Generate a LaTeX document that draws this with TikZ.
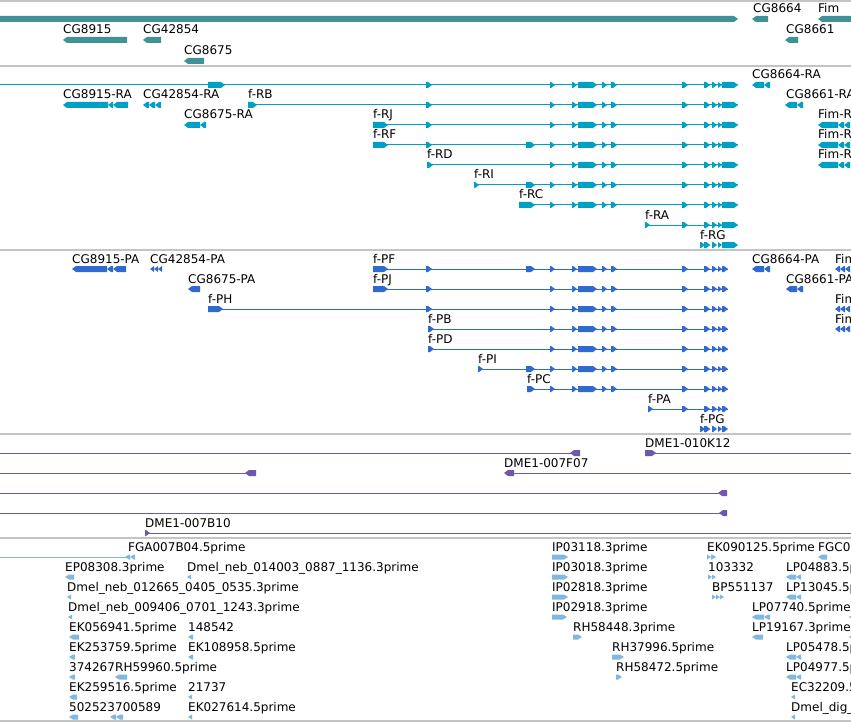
\documentclass[tikz,border=0pt]{standalone}
\usepackage{fontspec}
\setmainfont{DejaVu Sans}
\definecolor{GeneClr}{RGB}{64,146,150}
\definecolor{TransClr}{RGB}{0,160,196}
\definecolor{ProtClr}{RGB}{48,106,206}
\definecolor{CloneClr}{RGB}{112,88,168}
\definecolor{EstClr}{RGB}{128,184,224}
\definecolor{SepClr}{RGB}{196,196,196}
\def\hh{3}
\newcommand\exr[3]{\fill (#1,#3-\hh) -- ({max(#1,#2-4)},#3-\hh) -- (#2,#3) -- ({max(#1,#2-4)},#3+\hh) -- (#1,#3+\hh) -- cycle;}
\newcommand\exl[3]{\fill (#2,#3-\hh) -- ({min(#2,#1+4)},#3-\hh) -- (#1,#3) -- ({min(#2,#1+4)},#3+\hh) -- (#2,#3+\hh) -- cycle;}
\newcommand\fmid[1]{\foreach \a/\b in {550/555,572/577,578/597,602/607,611/617,682/688}{\exr{\a}{\b}{#1}}}
\newcommand\fend[2]{\foreach \a/\b in {704/710,712/717,718/722}{\exr{\a}{\b}{#1}}\exr{722}{#2}{#1}}

\begin{document}
\begin{tikzpicture}[x=1pt,y=-1pt,
  lbl/.style={anchor=base west,inner sep=0pt,text=black,font=\fontsize{12}{14}\selectfont},
  sep/.style={draw=SepClr,line width=1.2pt},
  intron/.style={line width=1pt}]
\useasboundingbox (0,0) rectangle (851,722);
\fill[white] (0,0) rectangle (851,722);
\clip (0,0) rectangle (851,722);

\foreach \y in {1,66,250,434,538,721} \draw[sep] (0,\y) -- (851,\y);

\begin{scope}[color=GeneClr]
\exr{0}{738}{19}
\exl{752}{768}{19}
\exl{818}{860}{19}
\exl{63}{127}{40}
\exl{143}{161}{40}
\exl{785}{798}{40}
\exl{184}{204}{61}
\end{scope}
\node[lbl] (g8664) at (753,13) {CG8664};
\node[lbl] (gfim) at (818,13) {Fim};
\node[lbl] (g8915) at (63,34) {CG8915};
\node[lbl] (g42854) at (143,34) {CG42854};
\node[lbl] (g8661) at (786,34) {CG8661};
\node[lbl] (g8675) at (184,55) {CG8675};

\begin{scope}[color=TransClr]
\draw[intron] (0,85) -- (738,85);
\exr{208}{225}{85} \exr{426}{432}{85} \fmid{85} \fend{85}{738}
\exl{752}{764}{85} \exl{764}{770}{85}
\exl{63}{108}{105} \exl{108}{113}{105} \exl{113}{128}{105}
\foreach \a in {143,149,155} {\exl{\a}{\a+6}{105}}
\draw[intron] (248,105) -- (738,105);
\exr{248}{257}{105} \exr{426}{432}{105} \fmid{105} \fend{105}{738}
\exl{785}{797}{105} \exl{797}{803}{105}
\exl{184}{200}{125} \exl{200}{206}{125}
\draw[intron] (373,125) -- (738,125);
\exr{373}{388}{125} \exr{426}{432}{125} \fmid{125} \fend{125}{738}
\draw[intron] (373,145) -- (738,145);
\exr{373}{388}{145} \exr{426}{432}{145} \exr{526}{535}{145} \fmid{145} \fend{145}{738}
\draw[intron] (427,165) -- (738,165);
\exr{427}{433}{165} \fmid{165} \fend{165}{738}
\draw[intron] (474,185) -- (738,185);
\exr{474}{479}{185} \exr{526}{535}{185} \fmid{185} \fend{185}{738}
\draw[intron] (519,205) -- (738,205);
\exr{519}{535}{205} \fmid{205} \fend{205}{738}
\draw[intron] (645,225) -- (738,225);
\exr{645}{650}{225} \exr{682}{688}{225} \fend{225}{738}
\exr{700}{705}{245} \exr{705}{710}{245} \fend{245}{738}
\foreach \y in {125,145,165} {\exl{818}{838}{\y} \exl{838}{844}{\y} \exl{844}{850}{\y}}
\end{scope}
\node[lbl] (t8664) at (752,79) {CG8664-RA};
\node[lbl] (t8915) at (63,99) {CG8915-RA};
\node[lbl] (t42854) at (143,99) {CG42854-RA};
\node[lbl] (fRB) at (248,99) {f-RB};
\node[lbl] (t8661) at (786,99) {CG8661-RA};
\node[lbl] (t8675) at (184,119) {CG8675-RA};
\node[lbl] (fRJ) at (373,119) {f-RJ};
\node[lbl] (fimRA) at (818,119) {Fim-RA};
\node[lbl] (fRF) at (373,139) {f-RF};
\node[lbl] (fimRB) at (818,139) {Fim-RB};
\node[lbl] (fRD) at (427,159) {f-RD};
\node[lbl] (fimRC) at (818,159) {Fim-RC};
\node[lbl] (fRI) at (474,179) {f-RI};
\node[lbl] (fRC) at (519,199) {f-RC};
\node[lbl] (fRA) at (645,219) {f-RA};
\node[lbl] (fRG) at (700,239) {f-RG};

\begin{scope}[color=ProtClr]
\exl{72}{107}{269} \exl{107}{113}{269} \exl{113}{126}{269}
\foreach \a in {150,154,158} {\exl{\a}{\a+4}{269}}
\draw[intron] (373,269) -- (728,269);
\exr{373}{388}{269} \exr{426}{432}{269} \exr{526}{535}{269} \fmid{269} \fend{269}{728}
\exl{752}{764}{269} \exl{764}{770}{269}
\exl{188}{200}{289}
\draw[intron] (373,289) -- (728,289);
\exr{373}{388}{289} \exr{426}{432}{289} \fmid{289} \fend{289}{728}
\exl{786}{797}{289} \exl{797}{803}{289}
\draw[intron] (208,309) -- (728,309);
\exr{208}{223}{309} \exr{426}{432}{309} \fmid{309} \fend{309}{728}
\draw[intron] (428,329) -- (728,329);
\exr{428}{434}{329} \fmid{329} \fend{329}{728}
\draw[intron] (428,349) -- (728,349);
\exr{428}{434}{349} \fmid{349} \fend{349}{728}
\draw[intron] (478,369) -- (728,369);
\exr{478}{483}{369} \exr{526}{535}{369} \fmid{369} \fend{369}{728}
\draw[intron] (527,389) -- (728,389);
\exr{527}{535}{389} \fmid{389} \fend{389}{728}
\draw[intron] (648,409) -- (728,409);
\exr{648}{653}{409} \exr{682}{688}{409} \fend{409}{728}
\exr{700}{705}{429} \exr{705}{710}{429} \fend{429}{728}
\foreach \y in {269,309,329} {\exl{835}{840}{\y} \exl{840}{845}{\y} \exl{845}{850}{\y}}
\end{scope}
\node[lbl] (p8915) at (72,263) {CG8915-PA};
\node[lbl] (p42854) at (150,263) {CG42854-PA};
\node[lbl] (fPF) at (373,263) {f-PF};
\node[lbl] (p8664) at (752,263) {CG8664-PA};
\node[lbl] (fimPA) at (835,263) {Fim-PA};
\node[lbl] (p8675) at (188,283) {CG8675-PA};
\node[lbl] (fPJ) at (373,283) {f-PJ};
\node[lbl] (p8661) at (786,283) {CG8661-PA};
\node[lbl] (fPH) at (208,303) {f-PH};
\node[lbl] (fimPB) at (835,303) {Fim-PB};
\node[lbl] (fPB) at (428,323) {f-PB};
\node[lbl] (fimPC) at (835,323) {Fim-PC};
\node[lbl] (fPD) at (428,343) {f-PD};
\node[lbl] (fPI) at (478,363) {f-PI};
\node[lbl] (fPC) at (527,383) {f-PC};
\node[lbl] (fPA) at (648,403) {f-PA};
\node[lbl] (fPG) at (700,423) {f-PG};

\begin{scope}[color=CloneClr]
\draw[intron] (0,453) -- (575,453);
\exl{570}{580}{453}
\draw[intron] (650,453) -- (860,453);
\exr{645}{656}{453}
\draw[intron] (0,473) -- (250,473);
\exl{245}{256}{473}
\draw[intron] (510,473) -- (860,473);
\exl{504}{514}{473}
\draw[intron] (0,493) -- (722,493);
\exl{718}{727}{493}
\draw[intron] (0,513) -- (722,513);
\exl{719}{727}{513}
\draw[intron] (145,533) -- (860,533);
\exr{145}{150}{533}
\end{scope}
\node[lbl] (k12) at (645,447) {DME1-010K12};
\node[lbl] (f07) at (504,467) {DME1-007F07};
\node[lbl] (b10) at (145,527) {DME1-007B10};

\begin{scope}[color=EstClr]
\def\hh{2.5}
\draw[line width=1pt] (0,557) -- (127,557);
\exl{125}{130}{557} \exl{130}{135}{557}
\exr{552}{568}{557}
\exr{707}{711}{557} \exr{711}{716}{557}
\exl{818}{827}{557}
\exl{65}{74}{577} \exl{187}{191}{577} \exr{552}{568}{577}
\exr{708}{712}{577} \exr{712}{716}{577}
\exl{786}{796}{577} \exl{796}{801}{577}
\exl{67}{71}{597} \exr{552}{568}{597}
\exr{712}{716}{597} \exr{716}{720}{597} \exr{720}{724}{597}
\exl{786}{796}{597} \exl{796}{801}{597}
\exl{68}{72}{617} \exr{552}{567}{617}
\exl{752}{764}{617} \exl{764}{770}{617} \exl{849}{860}{617}
\exl{69}{79}{637} \exl{188}{193}{637} \exr{573}{582}{637}
\exl{752}{763}{637} \exl{849}{860}{637}
\exl{69}{75}{657} \exl{188}{193}{657} \exr{612}{624}{657}
\exl{786}{796}{657} \exl{796}{801}{657}
\exl{69}{75}{677} \exl{115}{127}{677} \exr{616}{622}{677}
\exl{786}{796}{677} \exl{796}{801}{677}
\exl{69}{77}{697} \exl{188}{192}{697} \exl{791}{795}{697}
\exl{69}{78}{717} \exl{110}{116}{717} \exl{116}{123}{717}
\exl{188}{192}{717} \exl{791}{795}{717}
\end{scope}
\node[lbl] (e1) at (128,551) {FGA007B04.5prime};
\node[lbl] (e2) at (552,551) {IP03118.3prime};
\node[lbl] (e3) at (707,551) {EK090125.5prime};
\node[lbl] (e4) at (818,551) {FGC01};
\node[lbl] (e5) at (65,571) {EP08308.3prime};
\node[lbl] (e6) at (187,571) {Dmel\_neb\_014003\_0887\_1136.3prime};
\node[lbl] (e7) at (552,571) {IP03018.3prime};
\node[lbl] (e8) at (708,571) {103332};
\node[lbl] (e9) at (786,571) {LP04883.5prime};
\node[lbl] (e10) at (67,591) {Dmel\_neb\_012665\_0405\_0535.3prime};
\node[lbl] (e11) at (552,591) {IP02818.3prime};
\node[lbl] (e12) at (712,591) {BP551137};
\node[lbl] (e13) at (786,591) {LP13045.5prime};
\node[lbl] (e14) at (68,611) {Dmel\_neb\_009406\_0701\_1243.3prime};
\node[lbl] (e15) at (552,611) {IP02918.3prime};
\node[lbl] (e16) at (752,611) {LP07740.5prime};
\node[lbl] (e17) at (69,631) {EK056941.5prime};
\node[lbl] (e18) at (188,631) {148542};
\node[lbl] (e19) at (573,631) {RH58448.3prime};
\node[lbl] (e20) at (752,631) {LP19167.3prime};
\node[lbl] (e21) at (69,651) {EK253759.5prime};
\node[lbl] (e22) at (188,651) {EK108958.5prime};
\node[lbl] (e23) at (612,651) {RH37996.5prime};
\node[lbl] (e24) at (786,651) {LP05478.5prime};
\node[lbl] (e25) at (69,671) {374267};
\node[lbl] (e26) at (115,671) {RH59960.5prime};
\node[lbl] (e27) at (616,671) {RH58472.5prime};
\node[lbl] (e28) at (786,671) {LP04977.5prime};
\node[lbl] (e29) at (69,691) {EK259516.5prime};
\node[lbl] (e30) at (188,691) {21737};
\node[lbl] (e31) at (791,691) {EC32209.5prime};
\node[lbl] (e32) at (69,711) {502523};
\node[lbl] (e33) at (115,711) {700589};
\node[lbl] (e34) at (188,711) {EK027614.5prime};
\node[lbl] (e35) at (791,711) {Dmel\_dig\_};
\end{tikzpicture}
\end{document}
